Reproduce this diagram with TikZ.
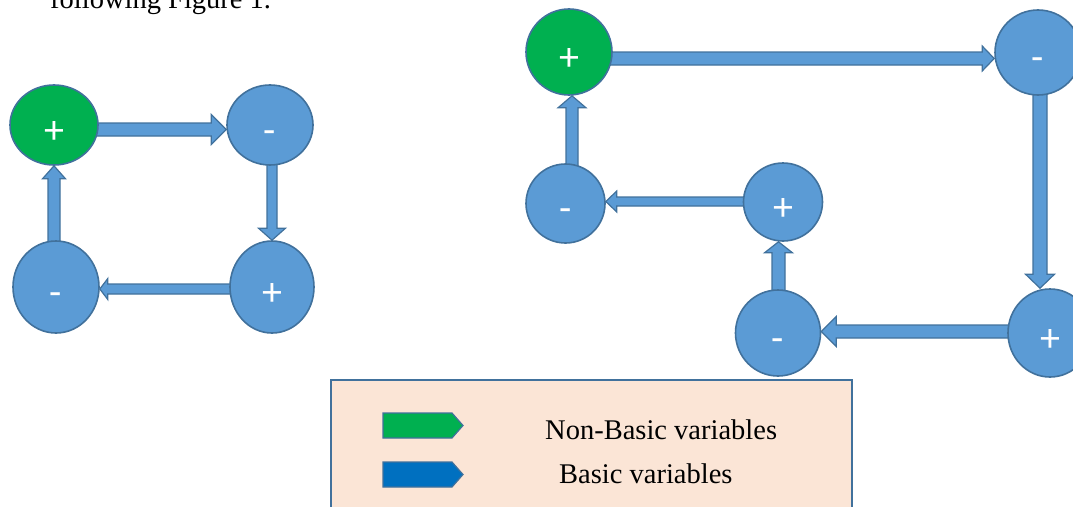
\documentclass[tikz,border=0pt]{standalone}
\usepackage{fontspec}
\setmainfont{Liberation Serif}
\newfontfamily\signfont{Carlito}
\usetikzlibrary{shapes.geometric,calc,backgrounds}
\definecolor{cblue}{HTML}{5B9BD5}
\definecolor{cedge}{HTML}{41719C}
\definecolor{cgreen}{HTML}{00B050}
\definecolor{dblue}{HTML}{0070C0}
\definecolor{peach}{HTML}{FBE5D6}
\tikzset{
  var/.style={ellipse, draw=cedge, line width=1.6pt, fill=cblue, inner sep=0pt,
    text=white, font=\signfont\fontsize{40}{40}\selectfont, text height=36pt, text depth=0pt},
  nbvar/.style={var, fill=cgreen},
  blockarrow/.style={draw=cedge, fill=cblue, line width=1.2pt, line join=miter},
  legarrow/.style={draw=cedge, line width=1.2pt, line join=miter},
  legtext/.style={font=\fontsize{28.5}{34}\selectfont, anchor=base west, inner sep=0pt},
}
% #1 start coordinate, #2 tip coordinate, #3 half shaft width, #4 half head width, #5 head length
\newcommand\blockarr[5]{%
  \coordinate (ba-s) at #1;
  \coordinate (ba-t) at #2;
  \coordinate (ba-h) at ($(ba-t)!#5pt!(ba-s)$);
  \draw[blockarrow] ($(ba-s)!#3pt!90:(ba-t)$) -- ($(ba-h)!#3pt!90:(ba-t)$)
    -- ($(ba-h)!#4pt!90:(ba-t)$) -- (ba-t) -- ($(ba-h)!#4pt!-90:(ba-t)$)
    -- ($(ba-h)!#3pt!-90:(ba-t)$) -- ($(ba-s)!#3pt!-90:(ba-t)$) -- cycle;
}
\begin{document}
\begin{tikzpicture}[x=1pt,y=-1pt]
\useasboundingbox (0,0) rectangle (1073,506);
\clip (0,0) rectangle (1073,506);

% caption fragment at the top
\node[legtext] (caption) at (50,8.3) {following Figure 1.};

% left cycle
\node[nbvar, minimum width=88pt, minimum height=80pt] (A) at (54,125) {+};
\node[var, minimum width=86pt, minimum height=80pt] (B) at (270,125) {-};
\node[var, minimum width=86pt, minimum height=92pt] (C) at (56,287) {-};
\node[var, minimum width=84pt, minimum height=92pt] (D) at (272,287) {+};

% right cycle
\node[nbvar, minimum width=86pt, minimum height=86pt] (E) at (569,52) {+};
\node[var, minimum width=86pt, minimum height=85pt] (F) at (1038,52.5) {-};
\node[var, minimum width=84pt, minimum height=88pt] (H) at (1050,333) {+};
\node[var, minimum width=85pt, minimum height=86pt] (G) at (778,333) {-};
\node[var, minimum width=79pt, minimum height=78pt] (I) at (783,202) {+};
\node[var, minimum width=79pt, minimum height=79pt] (J) at (565.5,203.5) {-};

\begin{pgfonlayer}{background}
  \blockarr{([yshift=-4.5pt]A.center)}{([yshift=-4.5pt]B.west)}{6.5}{15}{15}
  \blockarr{([xshift=2pt]B.center)}{(D.north)}{5}{13.5}{12}
  \blockarr{([yshift=-2pt]D.center)}{([yshift=-2pt]C.east)}{5}{10.5}{8}
  \blockarr{([xshift=-2pt]C.center)}{(A.south)}{6}{11.5}{13}

  \blockarr{([yshift=-6.5pt]E.center)}{([yshift=-6pt]F.west)}{6.5}{12.5}{12}
  \blockarr{([xshift=2pt]F.center)}{([xshift=-10pt]H.north)}{7}{14.5}{14}
  \blockarr{([yshift=1.5pt]H.center)}{([yshift=1.5pt]G.east)}{6.5}{15}{15}
  \blockarr{([xshift=0.5pt]G.center)}{([xshift=-4.5pt]I.south)}{6.5}{14}{11}
  \blockarr{([yshift=0.5pt]I.center)}{([yshift=2pt]J.east)}{4.5}{10.5}{11}
  \blockarr{([xshift=6.5pt]J.center)}{([xshift=3pt]E.south)}{6}{14}{12}
\end{pgfonlayer}

% legend
\draw[draw=cedge, fill=peach, line width=2pt] (331,380) rectangle (852,530);
\draw[legarrow, fill=cgreen] (383,413) -- (452,413) -- (463,425.5) -- (452,438) -- (383,438) -- cycle;
\draw[legarrow, fill=dblue] (383,462) -- (452,462) -- (463,474.5) -- (452,487) -- (383,487) -- cycle;
\node[legtext] (nb) at (545,439) {Non-Basic variables};
\node[legtext] (bv) at (559,483) {Basic variables};
\end{tikzpicture}
\end{document}
